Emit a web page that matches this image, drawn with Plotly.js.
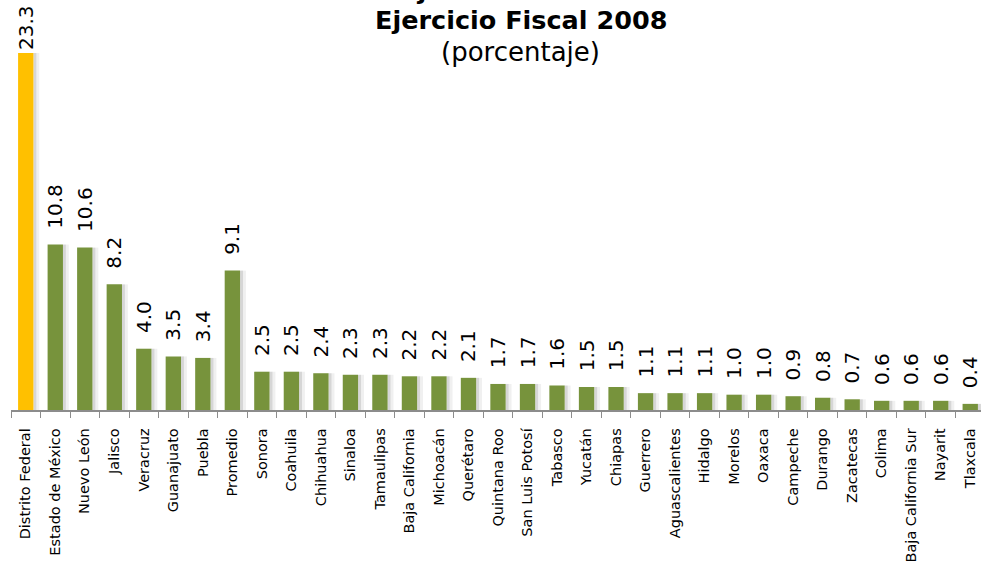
<!DOCTYPE html>
<html>
<head>
<meta charset="utf-8">
<script src="https://cdn.plot.ly/plotly-3.0.1.min.js"></script>
<style>
html,body{margin:0;padding:0;background:#fff;overflow:hidden;}
#chart{width:990px;height:563px;}
</style>
</head>
<body>
<div id="chart"></div>
<script>
const estados = ["Distrito Federal","Estado de México","Nuevo León","Jalisco","Veracruz","Guanajuato","Puebla","Promedio","Sonora","Coahuila","Chihuahua","Sinaloa","Tamaulipas","Baja California","Michoacán","Querétaro","Quintana Roo","San Luis Potosí","Tabasco","Yucatán","Chiapas","Guerrero","Aguascalientes","Hidalgo","Morelos","Oaxaca","Campeche","Durango","Zacatecas","Colima","Baja California Sur","Nayarit","Tlaxcala"];
const porcentaje = [23.3,10.8,10.6,8.2,4.0,3.5,3.4,9.1,2.5,2.5,2.4,2.3,2.3,2.2,2.2,2.1,1.7,1.7,1.6,1.5,1.5,1.1,1.1,1.1,1.0,1.0,0.9,0.8,0.7,0.6,0.6,0.6,0.4];
const destacado = "Distrito Federal";

const maximo = Math.max(...porcentaje);
const colores = estados.map(e => e === destacado ? "#FFC000" : "#77933C");
// leading no-break spaces lift the rotated labels off the bars (the tallest one sits tight, as in the original)
const etiquetas = porcentaje.map(v => (v === maximo ? "" : "\u00A0\u00A0") + v.toFixed(1));

const sombra1 = {
  type: "bar", x: estados, y: porcentaje,
  width: 0.1, offset: 0.26,
  marker: {color: "rgba(0,0,0,0.16)", line: {width: 0}},
  hoverinfo: "skip", showlegend: false
};
const sombra2 = {
  type: "bar", x: estados, y: porcentaje,
  width: 0.1, offset: 0.36,
  marker: {color: "rgba(0,0,0,0.06)", line: {width: 0}},
  hoverinfo: "skip", showlegend: false
};
const barras = {
  type: "bar", x: estados, y: porcentaje,
  width: 0.52, offset: -0.26,
  marker: {color: colores, line: {width: 0}},
  text: etiquetas,
  textposition: "outside",
  textangle: -90,
  constraintext: "none",
  cliponaxis: false,
  textfont: {family: "DejaVu Sans, Verdana, sans-serif", size: 20, color: "#000"},
  showlegend: false
};

const layout = {
  width: 990, height: 563,
  margin: {l: 11, r: 5, t: 0, b: 153},
  paper_bgcolor: "#fff", plot_bgcolor: "#fff",
  barmode: "overlay",
  showlegend: false,
  font: {family: "DejaVu Sans, Verdana, sans-serif", color: "#000"},
  xaxis: {
    type: "category",
    tickangle: -90,
    ticks: "outside", tickson: "boundaries", ticklen: 6, tickcolor: "#8c8c8c", tickwidth: 1,
    ticklabelstandoff: 11,
    showline: true, linecolor: "#8c8c8c", linewidth: 1.5,
    showgrid: false, zeroline: false,
    tickfont: {family: "DejaVu Sans, Verdana, sans-serif", size: 14.5, color: "#000"}
  },
  yaxis: {
    range: [0, 26.76],
    visible: false, showgrid: false, zeroline: false
  },
  annotations: [
    {text: "<b>Porcentaje del ISR de Pensiones</b>", xref: "paper", yref: "paper", x: 0.5236, y: 1, yanchor: "middle", yshift: 10, showarrow: false, font: {size: 25.5, color: "#000"}},
    {text: "<b>Ejercicio Fiscal 2008</b>", xref: "paper", yref: "paper", x: 0.5236, y: 1, yanchor: "middle", yshift: -20, showarrow: false, font: {size: 25.5, color: "#000"}},
    {text: "(porcentaje)", xref: "paper", yref: "paper", x: 0.5236, y: 1, yanchor: "middle", yshift: -52, showarrow: false, font: {size: 26, color: "#000"}}
  ]
};

Plotly.newPlot("chart", [sombra1, sombra2, barras], layout, {displayModeBar: false, staticPlot: true});
</script>
</body>
</html>
